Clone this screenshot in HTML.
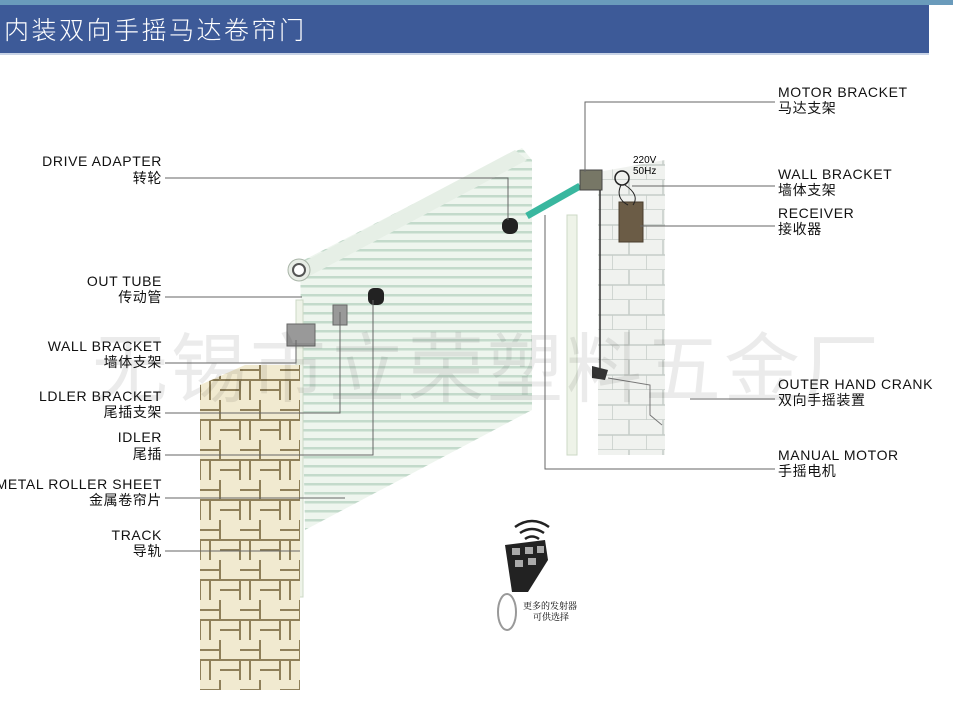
<!DOCTYPE html>
<html><head><meta charset="utf-8"><style>
body{margin:0;background:#fff;width:953px;height:723px;overflow:hidden;font-family:"Liberation Sans","Noto Sans CJK SC",sans-serif}
</style></head><body>
<svg width="953" height="723" xmlns="http://www.w3.org/2000/svg" font-family="Liberation Sans, Noto Sans CJK SC, sans-serif">
<defs>
<pattern id="slat" width="10" height="9" patternUnits="userSpaceOnUse">
<rect width="10" height="9" fill="#eef5ee"/><rect y="6" width="10" height="2.5" fill="#c3dacb"/></pattern>
<pattern id="brickL" width="40" height="40" patternUnits="userSpaceOnUse">
<rect width="40" height="40" fill="#f1ead0"/>
<path d="M0 20H40M20 0V20M0 20V40M40 20V40M10 20V40M0 10H20M20 30H40" stroke="#8f805a" stroke-width="2" fill="none"/></pattern>
<pattern id="brickR" width="34" height="30" patternUnits="userSpaceOnUse">
<rect width="34" height="30" fill="#f0f2ef"/>
<path d="M0 15H34M0 30H34M17 0V15M0 15V30" stroke="#c6cdc8" stroke-width="1.5" fill="none"/></pattern>
</defs>
<rect x="0" y="0" width="953" height="5" fill="#6a9bbb"/>
<rect x="0" y="5" width="929" height="48" fill="#3d5a98"/>
<rect x="0" y="53" width="929" height="2" fill="#c8d3e6"/>
<text x="4" y="39" font-size="25" fill="#fff" letter-spacing="2.5" font-family="Noto Sans CJK SC, sans-serif" font-weight="300">内装双向手摇马达卷帘门</text>

<!-- door -->
<polygon points="300,262 522,148 532,160 532,410 305,530" fill="url(#slat)"/>
<path d="M292 268 L515 150 L527 160 L302 280Z" fill="#e6efe6"/>
<circle cx="299" cy="270" r="11" fill="#e8ede6" stroke="#a9b5a8"/>
<circle cx="299" cy="270" r="6" fill="#fff" stroke="#555" stroke-width="2"/>
<rect x="296" y="300" width="7" height="297" fill="#eef3e8" stroke="#ccd8c6"/>
<rect x="567" y="215" width="10" height="240" fill="#eef3e8" stroke="#ccd8c6"/>
<polygon points="598,172 665,160 665,455 598,455" fill="url(#brickR)"/>
<polygon points="200,385 245,365 300,365 300,690 200,690" fill="url(#brickL)"/>
<!-- parts -->
<rect x="502" y="218" width="16" height="16" rx="7" fill="#222"/>
<path d="M527 216 L580 186" stroke="#39b79f" stroke-width="7"/>
<rect x="580" y="170" width="22" height="20" fill="#776" stroke="#444"/>
<rect x="368" y="288" width="16" height="17" rx="6" fill="#222"/>
<rect x="287" y="324" width="28" height="22" fill="#999" stroke="#666"/>
<rect x="333" y="305" width="14" height="20" fill="#999" stroke="#666"/>
<rect x="619" y="202" width="24" height="40" fill="#6b5c46" stroke="#4a3d2e"/>
<circle cx="622" cy="178" r="7" fill="none" stroke="#222" stroke-width="1.5"/>
<path d="M621 185 Q615 198 628 205 M625 185 Q640 195 633 205" stroke="#222" fill="none"/>
<path d="M600 190 V372" stroke="#333" stroke-width="1.5"/>
<path d="M592 366 L608 370 L605 380 L592 378Z" fill="#333"/>
<path d="M608 378 L650 385 L650 415 L662 425" stroke="#777" fill="none"/>
<text x="633" y="163" font-size="10">220V</text><text x="633" y="174" font-size="10">50Hz</text>

<text x="92" y="396" font-size="76" fill="#000" fill-opacity="0.08" font-family="Noto Sans CJK SC, sans-serif" letter-spacing="3">无锡市立荣塑料五金厂</text>

<g stroke="#666" fill="none" stroke-width="1">
<path d="M165 178 H508 V220"/>
<path d="M165 297 H302"/>
<path d="M165 363 H296 V340"/>
<path d="M165 413 H340 V312"/>
<path d="M165 455 H373 V300"/>
<path d="M165 498 H345"/>
<path d="M165 551 H300"/>
<path d="M775 102 H585 V172"/>
<path d="M775 186 H632"/>
<path d="M775 226 H640"/>
<path d="M775 399 H690"/>
<path d="M775 469 H545 V215"/>
</g>
<g font-size="14" fill="#111" text-anchor="end" letter-spacing="0.6">
<text x="162" y="166">DRIVE ADAPTER</text><text x="162" y="183">转轮</text>
<text x="162" y="286">OUT TUBE</text><text x="162" y="302">传动管</text>
<text x="162" y="351">WALL BRACKET</text><text x="162" y="367">墙体支架</text>
<text x="162" y="401">LDLER BRACKET</text><text x="162" y="417">尾插支架</text>
<text x="162" y="442">IDLER</text><text x="162" y="459">尾插</text>
<text x="162" y="489">METAL ROLLER SHEET</text><text x="162" y="505">金属卷帘片</text>
<text x="162" y="540">TRACK</text><text x="162" y="556">导轨</text>
</g>
<g font-size="14" fill="#111" letter-spacing="0.6">
<text x="778" y="97">MOTOR BRACKET</text><text x="778" y="113">马达支架</text>
<text x="778" y="179">WALL BRACKET</text><text x="778" y="195">墙体支架</text>
<text x="778" y="218">RECEIVER</text><text x="778" y="234">接收器</text>
<text x="778" y="389">OUTER HAND CRANK</text><text x="778" y="405">双向手摇装置</text>
<text x="778" y="460">MANUAL MOTOR</text><text x="778" y="476">手摇电机</text>
</g>
<path d="M515 527 Q532 515 549 527 M520 533 Q532 525 544 533 M525 539 Q532 534 539 539" stroke="#222" stroke-width="2.5" fill="none"/>
<path d="M505 545 L545 540 L548 560 L528 592 L512 592 Z" fill="#222"/>
<rect x="512" y="548" width="8" height="7" fill="#aaa"/><rect x="525" y="547" width="8" height="7" fill="#aaa"/><rect x="537" y="546" width="7" height="7" fill="#aaa"/>
<rect x="515" y="560" width="8" height="7" fill="#aaa"/><rect x="528" y="558" width="8" height="7" fill="#aaa"/>
<ellipse cx="507" cy="612" rx="9" ry="18" fill="none" stroke="#999" stroke-width="2"/>
<text x="523" y="609" font-size="9" font-family="Noto Serif CJK SC, serif">更多的发射器</text>
<text x="533" y="620" font-size="9" font-family="Noto Serif CJK SC, serif">可供选择</text>
</svg>
</body></html>
